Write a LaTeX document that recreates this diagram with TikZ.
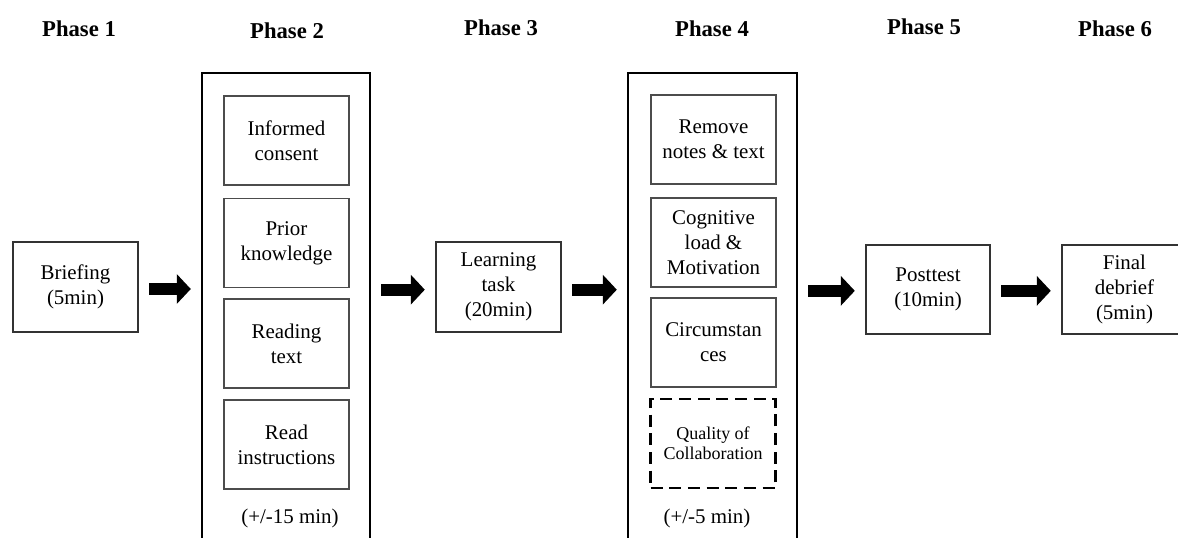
\documentclass[tikz,border=0pt]{standalone}
\usepackage{fontspec}
\setmainfont{Liberation Serif}
\usetikzlibrary{arrows.meta}
\begin{document}
\begin{tikzpicture}[x=0.75pt,y=-0.75pt,
  txt/.style={font=\fontsize{15.7pt}{18.75pt}\selectfont, align=center, inner sep=0pt},
  phase/.style={font=\fontsize{17pt}{20pt}\selectfont\bfseries, anchor=base, inner sep=0pt},
  outerbox/.style={draw=black, line width=0.8pt, minimum width=#1*0.75pt, inner sep=0pt},
  smallbox/.style={txt, draw=black!80, line width=0.8pt, minimum width=93.75pt, minimum height=67.5pt},
  innerbox/.style={txt, draw=black!70, line width=0.8pt, minimum width=93.75pt, minimum height=66.75pt},
  dashbox/.style={draw=black, line width=1.6pt, dash pattern=on 9pt off 5pt, minimum width=93.75pt, minimum height=66.75pt,
     align=center, font=\fontsize{13.5pt}{15pt}\selectfont, inner sep=0pt},
  blockarrow/.style={line width=9pt, -{Triangle[length=10.5pt,width=21.75pt]}, shorten <=8pt, shorten >=8pt}
]
\useasboundingbox (0,0) rectangle (1178,537);

% phase titles
\node[phase] (t1) at (79,36) {Phase 1};
\node[phase] (t2) at (287,38) {Phase 2};
\node[phase] (t3) at (501,35) {Phase 3};
\node[phase] (t4) at (712,36) {Phase 4};
\node[phase] (t5) at (924,34) {Phase 5};
\node[phase] (t6) at (1115,36) {Phase 6};

% phase 1
\node[smallbox] (brief) at (75.5,287) {Briefing\\(5min)};

% phase 2
\node[outerbox=168, minimum height=354pt] (p2) at (286,309) {};
\node[innerbox] (ic) at (286.5,140.5) {Informed\\consent};
\node[innerbox] (pk) at (286.5,243) {Prior\\knowledge};
\node[innerbox] (rt) at (286.5,343.5) {Reading\\text};
\node[innerbox] (ri) at (286.5,444.5) {Read\\instructions};
\node[txt] (d2) at (290,518) {(+/-15 min)};

% phase 3
\node[smallbox] (learn) at (498.5,287) {Learning\\task\\(20min)};

% phase 4
\node[outerbox=169, minimum height=354pt] (p4) at (712.5,309) {};
\node[innerbox] (rn) at (713.5,139.5) {Remove\\notes \& text};
\node[innerbox] (cl) at (713.5,242.5) {Cognitive\\load \&\\Motivation};
\node[innerbox] (ci) at (713.5,342.5) {Circumstan\\ces};
\node[dashbox] (qc) at (713,443.5) {Quality of\\Collaboration};
\node[txt] (d4) at (707,518) {(+/-5 min)};

% phase 5
\node[smallbox, minimum width=93pt, minimum height=66.75pt] (post) at (928,289.5) {Posttest\\(10min)};

% phase 6
\node[smallbox, minimum height=66.75pt] (final) at (1124.5,289.5) {Final\\debrief\\(5min)};

% arrows
\draw[blockarrow] ([yshift=-1.5pt]brief.east) -- ([yshift=-1.5pt]brief.east -| p2.west);
\draw[blockarrow] ([yshift=-2pt]p2.east |- learn.west) -- ([yshift=-2pt]learn.west);
\draw[blockarrow] ([yshift=-2pt]learn.east) -- ([yshift=-2pt]learn.east -| p4.west);
\draw[blockarrow] ([yshift=-1pt]p4.east |- post.west) -- ([yshift=-1pt]post.west);
\draw[blockarrow] ([yshift=-1pt]post.east) -- ([yshift=-1pt]final.west);
\end{tikzpicture}
\end{document}
